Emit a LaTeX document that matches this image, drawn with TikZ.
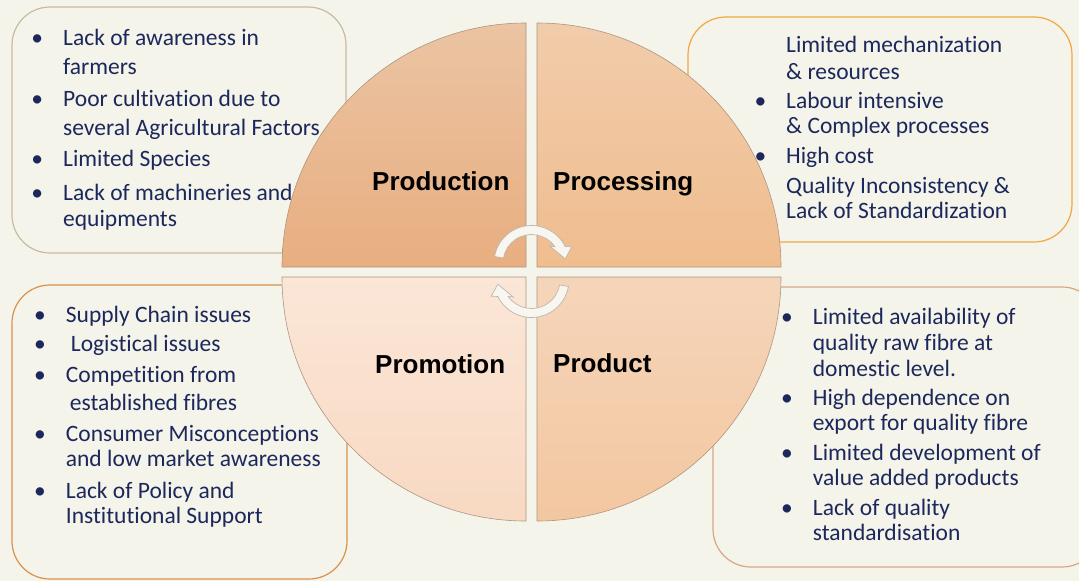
\documentclass[tikz,border=0pt]{standalone}
\usepackage{fontspec}
\setmainfont{Carlito}[Ligatures=NoCommon]
\newfontfamily\headfont{Liberation Sans}

\definecolor{paper}{HTML}{F5F4EA}
\definecolor{ink}{HTML}{1C285C}
\definecolor{edgeprod}{HTML}{C9BB9D}
\definecolor{edgeproc}{HTML}{F2A645}
\definecolor{edgeprom}{HTML}{D8924C}
\definecolor{edgeprdt}{HTML}{D6A687}
\definecolor{rim}{HTML}{AE957F}
\definecolor{turnfill}{HTML}{F8F6F0}
\definecolor{turnedge}{HTML}{BFB6AC}

\tikzset{
	issue/.style={anchor=base west,inner sep=0pt,text=ink,font=\fontsize{23.5}{27}\selectfont},
	head/.style={anchor=base west,inner sep=0pt,font=\headfont\bfseries\fontsize{26}{30}\selectfont},
	panel/.style={line width=1.2pt,fill=paper,rounded corners=38pt},
	quarter/.style={draw=rim,line width=0.6pt},
	turn/.style={fill=turnfill,draw=turnedge,line width=0.7pt}
}

\newcommand{\bul}{\llap{\textbullet\hspace{20pt}}}
% curved arrow around the middle, drawn in local polar coordinates
\newcommand{\turnpath}{(190:37.5) arc[start angle=190,end angle=334,radius=37.5] -- (338:43.5) -- (353:34) -- (317:25) -- (325:28.5) arc[start angle=325,end angle=190,radius=28.5] -- cycle}

\begin{document}
\begin{tikzpicture}[x=1pt,y=-1pt]
	\useasboundingbox[fill=paper] (0,0) rectangle (1079,581);
	
	% boxes behind the wheel
	\draw[panel,draw=edgeprod] (12,7) rectangle (346,253);
	\draw[panel,draw=edgeproc] (688,17) rectangle (1072,242);
	\draw[panel,draw=edgeprom] (12,285) rectangle (347,579);
	\draw[panel,draw=edgeprdt] (713,287) rectangle (1100,567);
	
	% the four quarters
	\draw[quarter,top color={rgb,255:red,235;green,196;blue,163},bottom color={rgb,255:red,232;green,174;blue,128}]
		(526,267) -- (282,267) arc[start angle=180,end angle=270,radius=244] -- cycle;
	\draw[quarter,top color={rgb,255:red,241;green,204;blue,171},bottom color={rgb,255:red,240;green,189;blue,142}]
		(537,267) -- (537,23) arc[start angle=270,end angle=360,radius=244] -- cycle;
	\draw[quarter,top color={rgb,255:red,251;green,230;blue,215},bottom color={rgb,255:red,248;green,217;blue,194}]
		(526,277) -- (282,277) arc[start angle=180,end angle=90,radius=244] -- cycle;
	\draw[quarter,top color={rgb,255:red,245;green,213;blue,186},bottom color={rgb,255:red,243;green,199;blue,160}]
		(537,277) -- (781,277) arc[start angle=0,end angle=90,radius=244] -- cycle;
	
	% cycle arrows
	\begin{scope}[shift={(531.5,263)}]
		\draw[turn] \turnpath;
	\end{scope}
	\begin{scope}[rotate around={180:(531.5,271.5)},shift={(531.5,263)}]
		\draw[turn] \turnpath;
	\end{scope}
	
	\node[head] (production) at (372,190) {Production};
	\node[head] (processing) at (553,190) {Processing};
	\node[head] (promotion) at (375,373) {Promotion};
	\node[head] (product) at (553,372) {Product};
	
	%issues per stage
	\foreach \y/\words [count=\i] in {45.7/\bul Lack of awareness in, 74/farmers, 106.7/\bul Poor cultivation due to, 135/several Agricultural Factors, 166.7/\bul Limited Species, 200/\bul Lack of machineries and, 226.7/equipments}
		\node[issue] (prod-\i) at (63,\y) {\words};
	\foreach \y/\words [count=\i] in {52.7/Limited mechanization, 79.3/\& resources, 108.3/\bul Labour intensive, 133.3/\& Complex processes, 163.3/\bul High cost, 193.3/Quality Inconsistency \&, 218.3/Lack of Standardization}
		\node[issue] (proc-\i) at (786,\y) {\words};
	\foreach \y/\words [count=\i] in {322.7/\bul Supply Chain issues, 351.7/\bul\hspace{5pt}Logistical issues, 382.7/\bul Competition from, 410.7/\hspace{4pt}established fibres, 441.7/\bul Consumer Misconceptions, 466.7/and low market awareness, 498.3/\bul Lack of Policy and, 523.3/Institutional Support}
		\node[issue] (prom-\i) at (65.7,\y) {\words};
	\foreach \y/\words [count=\i] in {324/\bul Limited availability of, 350.7/quality raw fibre at, 376/domestic level., 405/\bul High dependence on, 430/export for quality fibre, 460/\bul Limited development of, 485/value added products, 515/\bul Lack of quality, 540/standardisation}
		\node[issue] (prdt-\i) at (812.7,\y) {\words};
\end{tikzpicture}
\end{document}
